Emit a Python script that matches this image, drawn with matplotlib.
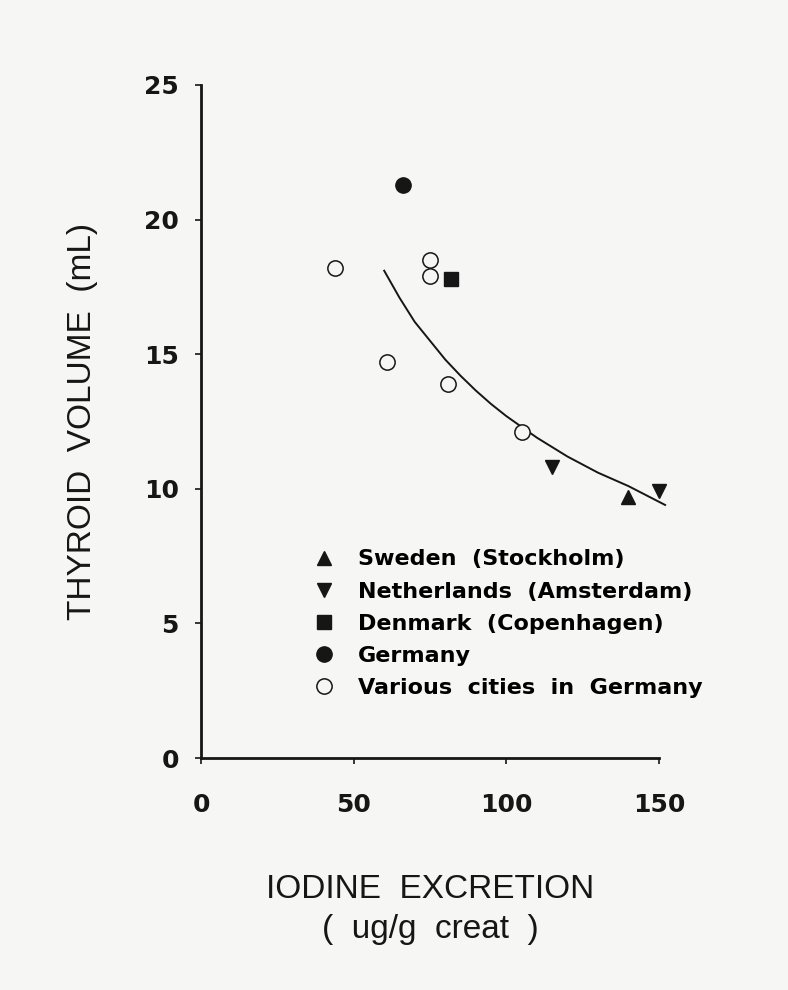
# Thyroid volume vs iodine excretion, several European sites
import numpy as np
import matplotlib.pyplot as plt

# data
sweden_x = [140]
sweden_y = [9.7]
netherlands_x = [115, 150]
netherlands_y = [10.8, 9.9]
denmark_x = [82]
denmark_y = [17.8]
germany_x = [66]
germany_y = [21.3]
cities_x = [44, 75, 75, 61, 81, 105]
cities_y = [18.2, 18.5, 17.9, 14.7, 13.9, 12.1]

# fitted curve, points
curve_x = [60, 62.5, 65, 67.5, 70, 72.5, 75, 77.5, 80, 85, 90, 95, 100,
           105, 110, 115, 120, 125, 130, 135, 140, 146, 152]
curve_y = [18.1, 17.6, 17.1, 16.65, 16.2, 15.85, 15.5, 15.15, 14.8, 14.2,
           13.65, 13.15, 12.7, 12.3, 11.9, 11.55, 11.2, 10.9, 10.6, 10.35,
           10.1, 9.75, 9.4]

labels = ['Sweden  (Stockholm)', 'Netherlands  (Amsterdam)',
          'Denmark  (Copenhagen)', 'Germany', 'Various  cities  in  Germany']

ink = '#161616'
bg = '#f6f6f4'

fig = plt.figure(figsize=(7.88, 9.9), dpi=100, facecolor=bg)
ax = fig.add_axes([201/788, 1 - 758/990, 458/788, 673/990], facecolor=bg)

ax.plot(curve_x, curve_y, color=ink, lw=1.4, clip_on=False)

h1, = ax.plot(sweden_x, sweden_y, '^', color=ink, ms=10, ls='none', clip_on=False)
h2, = ax.plot(netherlands_x, netherlands_y, 'v', color=ink, ms=10, ls='none', clip_on=False)
h3, = ax.plot(denmark_x, denmark_y, 's', color=ink, ms=10, ls='none')
h4, = ax.plot(germany_x, germany_y, 'o', color=ink, ms=11, ls='none')
h5, = ax.plot(cities_x, cities_y, 'o', mfc=bg, mec=ink, mew=1.1, ms=11, ls='none')

ax.set_xlim(0, 150)
ax.set_ylim(0, 25)
ax.set_xticks([0, 50, 100, 150])
ax.set_yticks([0, 5, 10, 15, 20, 25])

for s in ['top', 'right']:
    ax.spines[s].set_visible(False)
for s in ['left', 'bottom']:
    ax.spines[s].set_linewidth(2)
    ax.spines[s].set_color(ink)

ax.tick_params(axis='both', direction='out', length=4, width=1.2, colors=ink)
ax.tick_params(axis='x', pad=21)
ax.tick_params(axis='y', pad=12)
for lab in ax.get_xticklabels() + ax.get_yticklabels():
    lab.set_fontfamily('DejaVu Sans')
    lab.set_fontweight('bold')
    lab.set_fontsize(18)

ax.set_ylabel('THYROID  VOLUME  (mL)', fontfamily='Liberation Sans',
              fontsize=24, color=ink)
ax.yaxis.set_label_coords(-0.225, 0.5)
ax.set_xlabel('IODINE  EXCRETION\n(  ug/g  creat  )', fontfamily='Liberation Sans',
              fontsize=24, color=ink, linespacing=1.4, labelpad=41)

leg = ax.legend([h1, h2, h3, h4, h5], labels, loc='upper left',
                bbox_to_anchor=(0.245, 0.31), frameon=False,
                handlelength=1.0, handletextpad=1.0, labelspacing=0.55,
                borderpad=0, borderaxespad=0,
                prop={'family': 'DejaVu Sans', 'weight': 'bold', 'size': 16})

fig.savefig('out.png', dpi=100, facecolor=bg)
